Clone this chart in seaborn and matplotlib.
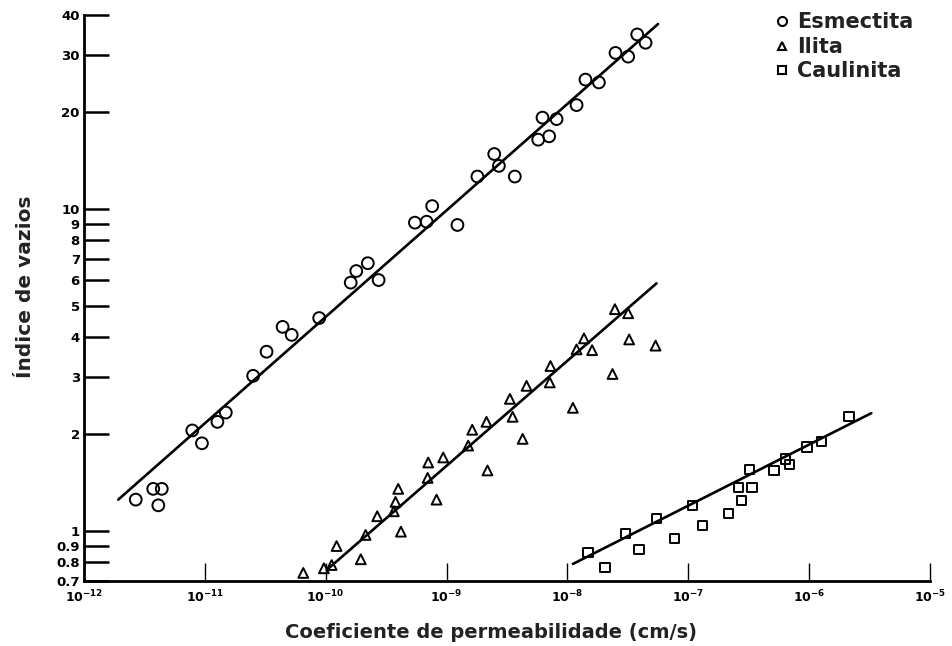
import numpy as np
import pandas as pd
import matplotlib
matplotlib.use('Agg')
import matplotlib.pyplot as plt
import seaborn as sns
from matplotlib.lines import Line2D
from matplotlib.ticker import NullLocator, FixedLocator

# permeability (cm/s) vs void ratio
esm_k = [2.68e-12, 3.74e-12, 4.40e-12, 4.12e-12, 7.87e-12, 9.46e-12, 1.27e-11, 1.49e-11,
         2.51e-11, 3.24e-11, 4.40e-11, 5.23e-11, 8.83e-11, 1.61e-10, 1.79e-10, 2.23e-10,
         2.74e-10, 5.47e-10, 6.84e-10, 7.60e-10, 1.23e-9, 1.80e-9, 2.48e-9, 2.71e-9,
         3.67e-9, 5.73e-9, 7.06e-9, 6.22e-9, 8.13e-9, 1.19e-8, 1.41e-8, 1.82e-8,
         2.50e-8, 3.18e-8, 3.78e-8, 4.43e-8]
esm_e = [1.25, 1.35, 1.35, 1.20, 2.05, 1.87, 2.18, 2.33,
         3.03, 3.60, 4.30, 4.06, 4.58, 5.90, 6.41, 6.78,
         6.01, 9.06, 9.12, 10.2, 8.91, 12.6, 14.8, 13.6,
         12.6, 16.4, 16.8, 19.2, 19.0, 21.0, 25.2, 24.7,
         30.5, 29.7, 34.8, 32.8]

ili_k = [6.52e-11, 9.66e-11, 1.12e-10, 1.23e-10, 1.95e-10, 2.14e-10, 2.67e-10, 3.66e-10,
         3.78e-10, 3.98e-10, 4.19e-10, 6.97e-10, 7.05e-10, 8.26e-10, 9.38e-10, 1.51e-9,
         1.63e-9, 2.14e-9, 2.18e-9, 3.34e-9, 3.52e-9, 4.26e-9, 4.59e-9, 7.14e-9,
         7.24e-9, 1.11e-8, 1.19e-8, 1.37e-8, 1.60e-8, 2.47e-8, 3.18e-8, 3.24e-8,
         5.36e-8, 2.36e-8]
ili_e = [0.740, 0.765, 0.783, 0.897, 0.816, 0.971, 1.11, 1.15,
         1.23, 1.35, 0.994, 1.46, 1.63, 1.25, 1.69, 1.84,
         2.06, 2.18, 1.54, 2.57, 2.26, 1.93, 2.82, 2.89,
         3.25, 2.41, 3.66, 3.96, 3.64, 4.88, 4.74, 3.93,
         3.76, 3.07]

cau_k = [1.48e-8, 2.04e-8, 3.04e-8, 3.90e-8, 5.46e-8, 7.73e-8, 1.08e-7, 1.31e-7,
         2.16e-7, 2.75e-7, 2.62e-7, 3.37e-7, 3.23e-7, 5.13e-7, 6.37e-7, 6.90e-7,
         9.62e-7, 1.26e-6, 2.14e-6]
cau_e = [0.855, 0.768, 0.983, 0.877, 1.09, 0.948, 1.20, 1.04,
         1.13, 1.24, 1.36, 1.36, 1.55, 1.54, 1.67, 1.61,
         1.82, 1.89, 2.26]

# fitted lines (end points)
esm_fit_k = [1.92e-12, 5.62e-8]
esm_fit_e = [1.25, 37.5]
ili_fit_k = [1.02e-10, 5.46e-8]
ili_fit_e = [0.756, 5.87]
cau_fit_k = [1.11e-8, 3.27e-6]
cau_fit_e = [0.789, 2.32]

labels = ['Esmectita', 'Ilita', 'Caulinita']
markers = ['o', '^', 's']
sizes = [72, 50, 45]

y_ticks = [0.7, 0.8, 0.9, 1, 2, 3, 4, 5, 6, 7, 8, 9, 10, 20, 30, 40]
y_ticklabels = ['0.7', '0.8', '0.9', '1', '2', '3', '4', '5', '6', '7', '8', '9', '10', '20', '30', '40']
x_exps = [-12, -11, -10, -9, -8, -7, -6, -5]

sns.set_style('white')
plt.rcParams['font.family'] = ['DejaVu Sans']
plt.rcParams['mathtext.fontset'] = 'dejavusans'

fig = plt.figure(figsize=(9.53, 6.46), dpi=100)
ax = fig.add_axes([84 / 953, 1 - 580.7 / 646, (930 - 84) / 953, (580.7 - 15) / 646])

series = [(esm_k, esm_e, esm_fit_k, esm_fit_e),
          (ili_k, ili_e, ili_fit_k, ili_fit_e),
          (cau_k, cau_e, cau_fit_k, cau_fit_e)]

for (k, e, fk, fe), m, s in zip(series, markers, sizes):
    df = pd.DataFrame({'k': k, 'e': e})
    sns.scatterplot(data=df, x='k', y='e', marker=m, s=s, facecolors='none',
                    edgecolor='black', linewidth=1.4, ax=ax, zorder=3)
    sns.lineplot(x=fk, y=fe, color='black', linewidth=1.9, ax=ax, zorder=2)

ax.set_xscale('log')
ax.set_yscale('log')
ax.set_xlim(1e-12, 1e-5)
ax.set_ylim(0.7, 40)

ax.xaxis.set_major_locator(FixedLocator([10.0 ** p for p in x_exps]))
ax.xaxis.set_minor_locator(NullLocator())
ax.set_xticklabels([r'$\mathbf{10^{%d}}$' % p for p in x_exps])
ax.yaxis.set_major_locator(FixedLocator(y_ticks))
ax.yaxis.set_minor_locator(NullLocator())
ax.set_yticklabels(y_ticklabels)

ax.tick_params(axis='y', which='major', left=True, direction='in', length=18, width=1.8,
               pad=3, labelsize=9.5, colors='black')
ax.tick_params(axis='x', which='major', bottom=True, direction='in', length=13, width=1.0,
               pad=6, labelsize=9, colors='black')
for lab in ax.get_yticklabels():
    lab.set_fontweight('bold')

for side in ['top', 'right']:
    ax.spines[side].set_visible(False)
for side in ['left', 'bottom']:
    ax.spines[side].set_linewidth(2.0)
    ax.spines[side].set_color('black')

ax.set_xlabel('')
ax.set_ylabel('')
fig.text(491 / 953, 1 - 632 / 646, 'Coeficiente de permeabilidade (cm/s)',
         ha='center', va='center', fontsize=14, fontweight='bold', color='#222222')
fig.text(26 / 953, 1 - 287 / 646, 'Índice de vazios', rotation=90,
         ha='center', va='center', fontsize=14.5, fontweight='bold', color='#222222')

handles = [Line2D([], [], marker=m, linestyle='none', markerfacecolor='none',
                  markeredgecolor='black', markeredgewidth=1.5, markersize=ms)
           for m, ms in zip(markers, [6.5, 6, 5.5])]
leg = fig.legend(handles, labels, loc='upper left', bbox_to_anchor=(0.812, 0.981),
                 bbox_transform=fig.transFigure, frameon=False, borderpad=0,
                 borderaxespad=0, handlelength=0.8, handletextpad=0.3,
                 labelspacing=0.22, prop={'size': 15, 'weight': 'bold'})
for t in leg.get_texts():
    t.set_color('#222222')

fig.savefig('out.png', dpi=100)
